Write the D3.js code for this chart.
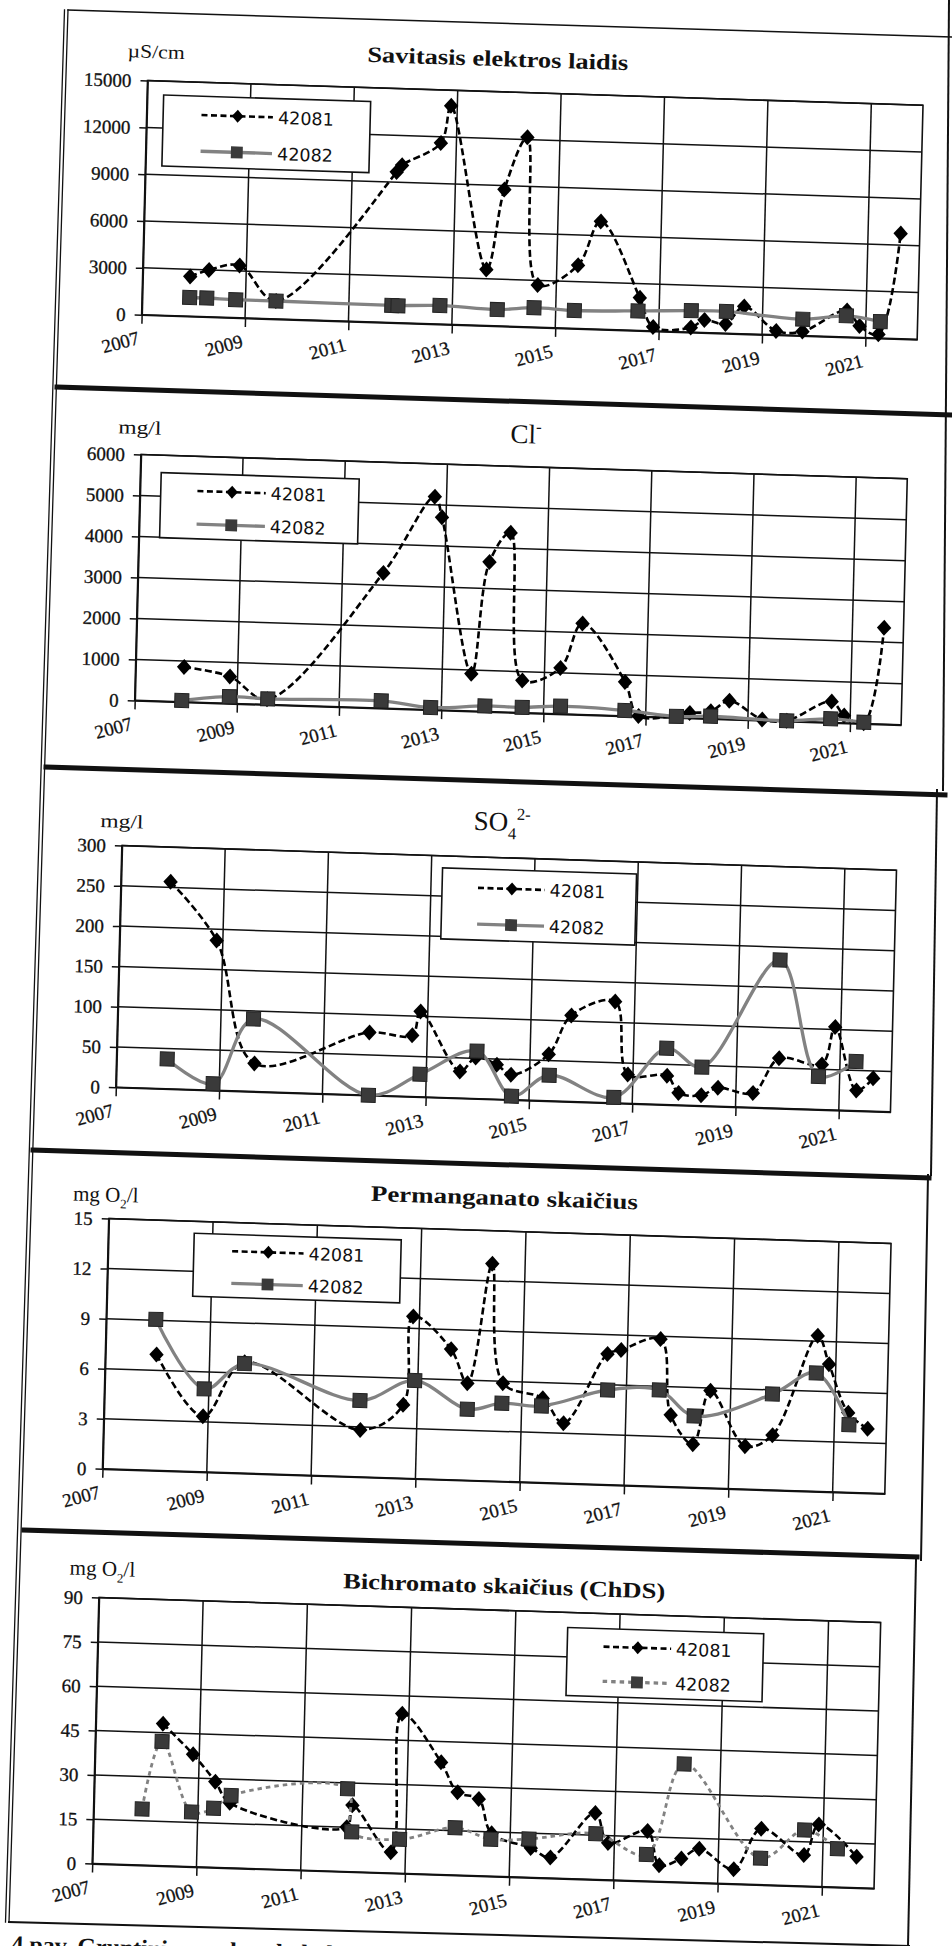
<!DOCTYPE html>
<html>
<head>
<meta charset="utf-8">
<script src="https://cdn.jsdelivr.net/npm/d3@7"></script>
<style>
  body { margin: 0; background: #fff; }
  svg { display: block; }
</style>
</head>
<body>
<script>
// ---- data (decimal year of sampling, value) ----
const xTickYears = [2007, 2009, 2011, 2013, 2015, 2017, 2019, 2021];
const seriesNames = ['42081', '42082'];

// Savitasis elektros laidis, µS/cm
const condTicks = [0, 3000, 6000, 9000, 12000, 15000];
const condYears81 = [2007.92, 2008.28, 2008.87, 2009.59, 2011.86, 2011.96, 2012.70, 2012.88, 2013.64, 2013.95, 2014.37, 2014.64, 2015.41, 2015.83, 2016.62, 2016.89, 2017.62, 2017.88, 2018.29, 2018.64, 2019.27, 2019.78, 2020.63, 2020.88, 2021.25, 2021.63];
const condVals81 = [2550, 3000, 3350, 1150, 9650, 10100, 11600, 14000, 3600, 8750, 12150, 2700, 4050, 6900, 2100, 250, 300, 800, 600, 1750, 250, 270, 1700, 740, 240, 6750];
const condYears82 = [2007.92, 2008.25, 2008.81, 2009.59, 2011.83, 2011.95, 2012.76, 2013.87, 2014.58, 2015.36, 2016.59, 2017.62, 2018.30, 2019.78, 2020.62, 2021.28];
const condVals82 = [1200, 1200, 1150, 1150, 1100, 1100, 1200, 1050, 1250, 1150, 1250, 1380, 1400, 1060, 1360, 1060];

// Cl-, mg/l
const clTicks = [0, 1000, 2000, 3000, 4000, 5000, 6000];
const clYears81 = [2007.95, 2008.85, 2009.59, 2011.80, 2012.77, 2012.92, 2013.57, 2013.87, 2014.27, 2014.57, 2015.31, 2015.72, 2016.58, 2016.86, 2017.86, 2018.27, 2018.63, 2019.28, 2019.76, 2020.63, 2020.88, 2021.27, 2021.62];
const clVals81 = [850, 655, 130, 3300, 5200, 4700, 910, 3650, 4380, 785, 1120, 2220, 830, 10, 125, 180, 450, 20, 10, 510, 180, 10, 2350];
const clYears82 = [2007.92, 2008.85, 2009.60, 2011.82, 2012.79, 2013.85, 2014.58, 2015.33, 2016.59, 2017.60, 2018.27, 2019.76, 2020.62, 2021.27];
const clVals82 = [35, 165, 140, 180, 55, 135, 130, 190, 134, 30, 60, 10, 90, 30];

// SO4 2-, mg/l
const so4Ticks = [0, 50, 100, 150, 200, 250, 300];
const so4Years81 = [2007.96, 2008.88, 2009.67, 2011.88, 2012.71, 2012.86, 2013.65, 2013.95, 2014.36, 2014.64, 2015.36, 2015.78, 2016.62, 2016.90, 2017.66, 2017.89, 2018.33, 2018.65, 2019.33, 2019.82, 2020.65, 2020.89, 2021.33, 2021.65];
const so4Vals81 = [257, 186, 35, 78, 76, 106, 33, 51, 43, 31, 58, 107, 126, 36, 36, 15, 13, 23, 18, 62, 56, 103, 25, 41];
const so4Years82 = [2007.98, 2008.88, 2009.63, 2011.89, 2012.88, 2013.97, 2014.66, 2015.38, 2016.64, 2017.64, 2018.33, 2019.79, 2020.59, 2021.31];
const so4Vals82 = [37, 8, 90, 0, 28, 59, 4.5, 32, 7, 70, 48, 184, 41, 61];

// Permanganato skaičius, mg O2/l
const permTicks = [0, 3, 6, 9, 12, 15];
const permYears81 = [2007.98, 2008.90, 2009.67, 2011.92, 2012.73, 2012.88, 2013.62, 2013.95, 2014.37, 2014.63, 2015.40, 2015.81, 2016.62, 2016.88, 2017.63, 2017.86, 2018.30, 2018.61, 2019.30, 2019.82, 2020.64, 2020.87, 2021.26, 2021.64];
const permVals81 = [6.95, 3.33, 6.65, 2.82, 4.4, 9.72, 7.83, 5.82, 13.03, 5.89, 5.06, 3.6, 7.84, 8.1, 8.83, 4.3, 2.6, 5.83, 2.58, 3.29, 9.33, 7.65, 4.77, 3.86];
const permYears82 = [2007.95, 2008.91, 2009.67, 2011.90, 2012.94, 2013.96, 2014.62, 2015.38, 2016.64, 2017.63, 2018.31, 2019.80, 2020.63, 2021.28];
const permVals82 = [9.05, 4.98, 6.57, 4.58, 5.88, 4.26, 4.69, 4.6, 5.68, 5.78, 4.29, 5.75, 7.1, 4.06];

// Bichromato skaičius (ChDS), mg O2/l
const bichTicks = [0, 15, 30, 45, 60, 75, 90];
const bichYears81 = [2008.29, 2008.88, 2009.32, 2009.61, 2011.86, 2011.96, 2012.72, 2012.87, 2013.64, 2013.97, 2014.38, 2014.64, 2015.40, 2015.78, 2016.62, 2016.88, 2017.63, 2017.87, 2018.29, 2018.63, 2019.30, 2019.81, 2020.64, 2020.91, 2021.65];
const bichVals81 = [48, 38, 29, 22, 15, 22.5, 7, 54, 38, 28, 26, 14.5, 10, 7, 22.5, 12.5, 17, 5.5, 8, 11.5, 5, 19, 10.5, 21, 10.5];
const bichYears82 = [2007.93, 2008.28, 2008.88, 2009.30, 2009.63, 2011.86, 2011.96, 2012.88, 2013.94, 2014.63, 2015.36, 2016.64, 2017.62, 2018.30, 2019.81, 2020.64, 2021.28];
const bichVals82 = [19, 42, 18.5, 20, 24.5, 28, 13.5, 11.5, 16, 12.5, 13, 15.5, 9, 40, 9, 19, 13];

// ---- layout ----
const serif = '"Liberation Serif", "Times New Roman", serif';
const sans = '"DejaVu Sans", Verdana, sans-serif';
const ink = '#111';

const panels = [
  { left: 125.5, right: 901, top: 91.7, bottom: 325.8, ticks: condTicks,
    y81: condYears81, v81: condVals81, y82: condYears82, v82: condVals82,
    title: [['Savitasis elektros laidis', '']], titleX: 475, titleY: 66, titleW: 261, bold: true,
    unit: [['µS/cm', '']], unitX: 105, unitY: 69, unitW: 57,
    legend: { x: 142, y: 105.6, w: 207, h: 71 } },
  { left: 128.2, right: 894.6, top: 465.5, bottom: 711.4, ticks: clTicks,
    y81: clYears81, v81: clVals81, y82: clYears82, v82: clVals82,
    title: [['Cl', ''], ['-', 'sup']], titleX: 497, titleY: 442, start: true,
    unit: [['mg/l', '']], unitX: 105, unitY: 445, unitW: 43,
    legend: { x: 149, y: 483, w: 198, h: 65 } },
  { left: 119, right: 893.6, top: 856.9, bottom: 1098.5, ticks: so4Ticks,
    y81: so4Years81, v81: so4Vals81, y82: so4Years82, v82: so4Vals82,
    title: [['SO', ''], ['4', 'sub'], ['2-', 'sup']], titleX: 470, titleY: 830, start: true,
    unit: [['mg/l', '']], unitX: 97, unitY: 839, unitW: 43,
    legend: { x: 440, y: 869, w: 194, h: 71 } },
  { left: 115.2, right: 897.5, top: 1230, bottom: 1480.2, ticks: permTicks,
    y81: permYears81, v81: permVals81, y82: permYears82, v82: permVals82,
    title: [['Permanganato skaičius', '']], titleX: 510, titleY: 1204, titleW: 267, bold: true,
    unit: [['mg O', ''], ['2', 'sub'], ['/l', '']], unitX: 79, unitY: 1213,
    legend: { x: 201, y: 1242, w: 207, h: 63 } },
  { left: 114.8, right: 896.6, top: 1609, bottom: 1875, ticks: bichTicks,
    y81: bichYears81, v81: bichVals81, y82: bichYears82, v82: bichVals82, dash82: true,
    title: [['Bichromato skaičius (ChDS)', '']], titleX: 519.5, titleY: 1592, titleW: 322, bold: true,
    unit: [['mg O', ''], ['2', 'sub'], ['/l', '']], unitX: 85, unitY: 1587,
    legend: { x: 584, y: 1624, w: 196, h: 68 } }
];

const svg = d3.select('body').append('svg')
  .attr('width', 952)
  .attr('height', 1946)
  .style('background', '#fff');

// page frame of the scanned sheet
const frame = svg.append('g').attr('stroke', ink).attr('fill', 'none').attr('stroke-linecap', 'square');
const frameLines = [
  [68, 10, 952, 37, 1.5],
  [64.5, 10, 5.5, 1922, 1.3], [68, 10, 9, 1922, 1.3],
  [949, 0, 943, 790, 2], [937, 790, 931, 1175, 2], [928, 1175, 921, 1560, 2], [916, 1560, 908, 1946, 2],
  [57, 387, 952, 415, 5], [46, 767, 945, 795, 5], [33, 1150, 929, 1178, 5], [24, 1530, 917, 1557, 5],
  [9, 1922, 909, 1946, 2]
];
frameLines.forEach(f => {
  frame.append('line').attr('x1', f[0]).attr('y1', f[1]).attr('x2', f[2]).attr('y2', f[3]).attr('stroke-width', f[4]);
});

// the scan is slightly skewed; charts are drawn flat and tilted as a whole
const wrap = svg.append('g').attr('transform', 'matrix(1,0.0318,-0.025,1,24.3,-15.1)');

const diamond = s => `M0,${-s}L${s * 0.9},0L0,${s}L${-s * 0.9},0Z`;

function addParts(text, parts, fs) {
  let off = 0;
  parts.forEach(([t, kind]) => {
    const target = kind === 'sup' ? -0.42 * fs : kind === 'sub' ? 0.3 * fs : 0;
    text.append('tspan')
      .attr('dy', target - off)
      .attr('font-size', kind ? fs * 0.62 : fs)
      .text(t);
    off = target;
  });
}

function drawPanel(p) {
  const g = wrap.append('g');
  const x = d3.scaleLinear().domain([2007, 2022]).range([p.left, p.right]);
  const y = d3.scaleLinear().domain([0, d3.max(p.ticks)]).range([p.bottom, p.top]);

  // grid
  g.append('g').selectAll('line').data(p.ticks.slice(1)).join('line')
    .attr('x1', p.left).attr('x2', p.right)
    .attr('y1', d => y(d)).attr('y2', d => y(d))
    .attr('stroke', ink).attr('stroke-width', 1.5);
  g.append('g').selectAll('line').data(xTickYears.slice(1)).join('line')
    .attr('x1', d => x(d)).attr('x2', d => x(d))
    .attr('y1', p.top).attr('y2', p.bottom)
    .attr('stroke', ink).attr('stroke-width', 1.5);
  g.append('rect')
    .attr('x', p.left).attr('y', p.top)
    .attr('width', p.right - p.left).attr('height', p.bottom - p.top)
    .attr('fill', 'none').attr('stroke', ink).attr('stroke-width', 1.6);

  // axes
  const ya = g.append('g').attr('transform', `translate(${p.left},0)`)
    .call(d3.axisLeft(y).tickValues(p.ticks).tickSize(7).tickSizeOuter(0).tickPadding(9).tickFormat(d3.format('d')));
  ya.attr('font-family', serif).attr('font-size', 19);
  ya.selectAll('line').attr('stroke', ink).attr('stroke-width', 1.5);
  ya.select('.domain').attr('stroke', ink).attr('stroke-width', 1.8);
  ya.selectAll('text').attr('fill', ink).attr('stroke', ink).attr('stroke-width', 0.3).attr('dy', '0.34em');

  const xa = g.append('g').attr('transform', `translate(0,${p.bottom})`)
    .call(d3.axisBottom(x).tickValues(xTickYears).tickSize(9).tickSizeOuter(0).tickFormat(d3.format('d')));
  xa.attr('font-family', serif).attr('font-size', 19);
  xa.selectAll('line').attr('stroke', ink).attr('stroke-width', 1.5);
  xa.select('.domain').attr('stroke', ink).attr('stroke-width', 1.8);
  xa.selectAll('text')
    .attr('fill', ink).attr('stroke', ink).attr('stroke-width', 0.3)
    .attr('x', 0).attr('y', 0).attr('dy', 0)
    .attr('text-anchor', 'end')
    .attr('transform', 'translate(-1,29) rotate(-16.5)');

  // series
  const line = d3.line().x(d => x(d[0])).y(d => y(d[1])).curve(d3.curveCatmullRom.alpha(0.5));
  const d81 = d3.zip(p.y81, p.v81);
  const d82 = d3.zip(p.y82, p.v82);

  g.append('path').attr('d', line(d81))
    .attr('fill', 'none').attr('stroke', '#000').attr('stroke-width', 2.6).attr('stroke-dasharray', '7,3.5');
  g.append('g').selectAll('path').data(d81).join('path')
    .attr('d', diamond(8))
    .attr('transform', d => `translate(${x(d[0])},${y(d[1])})`)
    .attr('fill', '#000');

  g.append('path').attr('d', line(d82))
    .attr('fill', 'none').attr('stroke', '#828282').attr('stroke-width', p.dash82 ? 2.8 : 3.3)
    .attr('stroke-dasharray', p.dash82 ? '4.5,4' : null);
  g.append('g').selectAll('path').data(d82).join('path')
    .attr('d', d3.symbol(d3.symbolSquare, 196)())
    .attr('transform', d => `translate(${x(d[0])},${y(d[1])})`)
    .attr('fill', '#3a3a3a').attr('stroke', '#222').attr('stroke-width', 1);

  // legend
  const L = p.legend;
  const lg = g.append('g').attr('transform', `translate(${L.x},${L.y})`);
  lg.append('rect').attr('width', L.w).attr('height', L.h)
    .attr('fill', '#fff').attr('stroke', ink).attr('stroke-width', 1.6);
  seriesNames.forEach((name, i) => {
    const ry = L.h * (i === 0 ? 0.265 : 0.775);
    lg.append('line')
      .attr('x1', L.w * 0.185).attr('x2', L.w * 0.53).attr('y1', ry).attr('y2', ry)
      .attr('stroke', i === 0 ? '#000' : '#828282')
      .attr('stroke-width', i === 0 ? 2.6 : 3.3)
      .attr('stroke-dasharray', i === 0 ? '6,3.5' : (p.dash82 ? '4.5,4' : null));
    lg.append('path')
      .attr('d', i === 0 ? diamond(6.5) : d3.symbol(d3.symbolSquare, 140)())
      .attr('transform', `translate(${L.w * 0.36},${ry})`)
      .attr('fill', i === 0 ? '#000' : '#3a3a3a');
    lg.append('text')
      .attr('x', L.w * 0.555).attr('y', ry + 6.5)
      .attr('font-family', sans).attr('font-size', 17.5).attr('fill', ink)
      .text(name);
  });

  // title
  const fsT = p.bold ? 22 : 27;
  const tt = g.append('text')
    .attr('x', p.titleX).attr('y', p.titleY)
    .attr('font-family', serif).attr('fill', ink)
    .attr('font-weight', p.bold ? 'bold' : 'normal')
    .attr('text-anchor', p.start ? 'start' : 'middle');
  addParts(tt, p.title, fsT);
  if (p.titleW) tt.attr('textLength', p.titleW).attr('lengthAdjust', 'spacingAndGlyphs');

  // unit
  const ut = g.append('text')
    .attr('x', p.unitX).attr('y', p.unitY)
    .attr('font-family', serif).attr('fill', ink);
  addParts(ut, p.unit, p.unitW ? 19 : 21);
  if (p.unitW) ut.attr('textLength', p.unitW).attr('lengthAdjust', 'spacingAndGlyphs');
}

panels.forEach(drawPanel);

// figure caption, cut by the page edge as in the scan
wrap.append('text')
  .attr('x', 36).attr('y', 1966)
  .attr('font-family', serif).attr('font-weight', 'bold').attr('font-size', 24).attr('fill', ink)
  .text('4 pav. Gruntinio vandens kokybės rodiklių kaita');
</script>
</body>
</html>
